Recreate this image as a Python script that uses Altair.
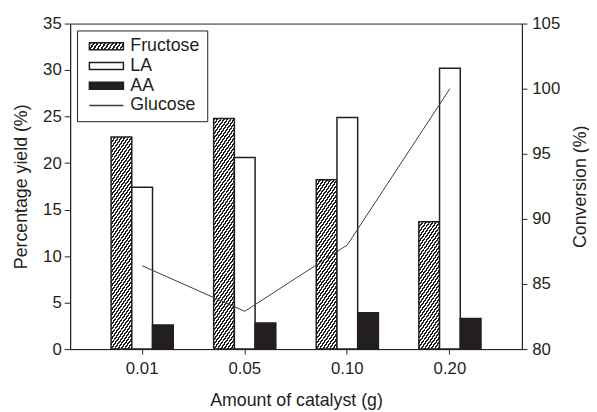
import math
import altair as alt

# ---------------- data ----------------
cats = ["0.01", "0.05", "0.10", "0.20"]
fructose = [22.8, 24.8, 18.2, 13.7]
la = [17.4, 20.6, 24.9, 30.2]
aa = [2.6, 2.8, 3.9, 3.3]
glucose = [86.4, 82.9, 88.0, 100.0]
bar_series = ["Fructose", "LA", "AA"]
legend_items = ["Fructose", "LA", "AA", "Glucose"]
left_ticks = [0, 5, 10, 15, 20, 25, 30, 35]
right_ticks = [80, 85, 90, 95, 100, 105]

# ---------------- styling ----------------
FONT = "Liberation Sans"
INK = "#231f20"
LINE = "#3c3c3c"
PLOT_W, PLOT_H = 458, 330
Y_MAX = 35
PAD_INNER, PAD_OUTER = 0.394, 0.399
STEP = PLOT_W / (len(cats) - PAD_INNER + 2 * PAD_OUTER)
BAR_W = STEP * (1 - PAD_INNER) / len(bar_series)
RECT_PATH = "M-0.7,-0.7H6.2V0.7H-0.7Z"
LINE_PATH = "M-0.7,0H6.2"


def hatch(w, h, period=3.4, angle=55.0, ink=0.5):
    """Linear gradient with hard stops that draws '////' hatching in a w x h box."""
    th = math.radians(angle)
    s, c = math.sin(th), math.cos(th)
    span = w * s + h * c
    k = span / ((w * s) ** 2 + (h * c) ** 2)
    x2, y2 = w * s * k, h * c * k
    p = period * s
    stops = []
    n = int(math.ceil(span / p))
    for i in range(n):
        o0 = min(i * p / span, 1)
        o1 = min((i * p + ink * p) / span, 1)
        o2 = min((i + 1) * p / span, 1)
        stops += [
            {"offset": o0, "color": INK},
            {"offset": o1, "color": INK},
            {"offset": o1, "color": "white"},
            {"offset": o2, "color": "white"},
        ]
    return {"gradient": "linear", "x1": 0, "y1": 0, "x2": x2, "y2": y2, "stops": stops}


bar_rows = []
for i, cat in enumerate(cats):
    for name, vals in zip(bar_series, [fructose, la, aa]):
        v = vals[i]
        if name == "Fructose":
            paint = hatch(BAR_W, v * PLOT_H / Y_MAX)
        elif name == "LA":
            paint = "white"
        else:
            paint = INK
        bar_rows.append({"cat": cat, "series": name, "value": v, "paint": paint})

line_rows = [{"cat": c, "conv": g} for c, g in zip(cats, glucose)]
key_rows = [{"series": s} for s in legend_items]

hatch_param = alt.param(name="hatch", value=hatch(35, 7, period=3.9))

bars = alt.Chart(alt.Data(values=bar_rows)).mark_bar(stroke=INK, strokeWidth=1.5).encode(
    x=alt.X(
        "cat:N",
        sort=cats,
        scale=alt.Scale(paddingInner=PAD_INNER, paddingOuter=PAD_OUTER),
        axis=alt.Axis(title="Amount of catalyst (g)", labelAngle=0, tickSize=5,
                      labelPadding=7, titlePadding=15),
    ),
    xOffset=alt.XOffset("series:N", sort=bar_series,
                        scale=alt.Scale(paddingInner=0, paddingOuter=0)),
    y=alt.Y(
        "value:Q",
        stack=None,
        scale=alt.Scale(domain=[0, Y_MAX], nice=False, zero=True),
        axis=alt.Axis(title="Percentage yield (%)", values=left_ticks, tickSize=6,
                      labelPadding=3, titlePadding=12),
    ),
    fill=alt.Fill("paint:N", scale=None, legend=None),
)

line = alt.Chart(alt.Data(values=line_rows)).mark_line(color=LINE, strokeWidth=1).encode(
    x=alt.X("cat:N", sort=cats),
    y=alt.Y(
        "conv:Q",
        scale=alt.Scale(domain=[80, 105], nice=False, zero=False),
        axis=alt.Axis(orient="right", title="Conversion (%)", values=right_ticks,
                      tickSize=5, labelPadding=5, titlePadding=12,
                      titleAngle=270, titleBaseline="top"),
    ),
)

key = alt.Chart(alt.Data(values=key_rows)).mark_point(
    filled=True,
    opacity=0,
    fill=alt.expr("datum.value === 'Fructose' ? hatch : datum.value === 'AA' ? '#231f20' : datum.value === 'LA' ? 'white' : 'transparent'"),
    stroke=alt.expr("datum.value === 'Glucose' ? '#3c3c3c' : '#231f20'"),
    strokeWidth=alt.expr("datum.value === 'Glucose' ? 1 : 1.5"),
).encode(
    shape=alt.Shape(
        "series:N",
        sort=legend_items,
        scale=alt.Scale(domain=legend_items, range=[RECT_PATH, RECT_PATH, RECT_PATH, LINE_PATH]),
        legend=alt.Legend(
            title=None,
            orient="top-left",
            offset=7,
            padding=7,
            strokeColor=INK,
            fillColor="white",
            symbolSize=100,
            symbolOpacity=1,
            labelFont=FONT,
            labelFontSize=18,
            labelColor=INK,
            labelOffset=29,
            rowPadding=2,
        ),
    ),
)

chart = (
    alt.layer(bars, line, key)
    .resolve_scale(y="independent", fill="independent")
    .add_params(hatch_param)
    .properties(
        width=PLOT_W,
        height=PLOT_H,
        autosize=alt.AutoSizeParams(type="none"),
        padding={"left": 63, "top": 13, "right": 68, "bottom": 61},
    )
    .configure_view(stroke=INK, strokeWidth=1)
    .configure_axis(
        grid=False,
        domainColor=INK,
        tickColor=INK,
        labelColor=INK,
        titleColor=INK,
        labelFont=FONT,
        titleFont=FONT,
        labelFontSize=17,
        titleFontSize=18,
        titleFontWeight="normal",
        domainWidth=1,
        tickWidth=1,
    )
)

chart.save("out.html", embed_options={"renderer": "svg", "actions": False})
